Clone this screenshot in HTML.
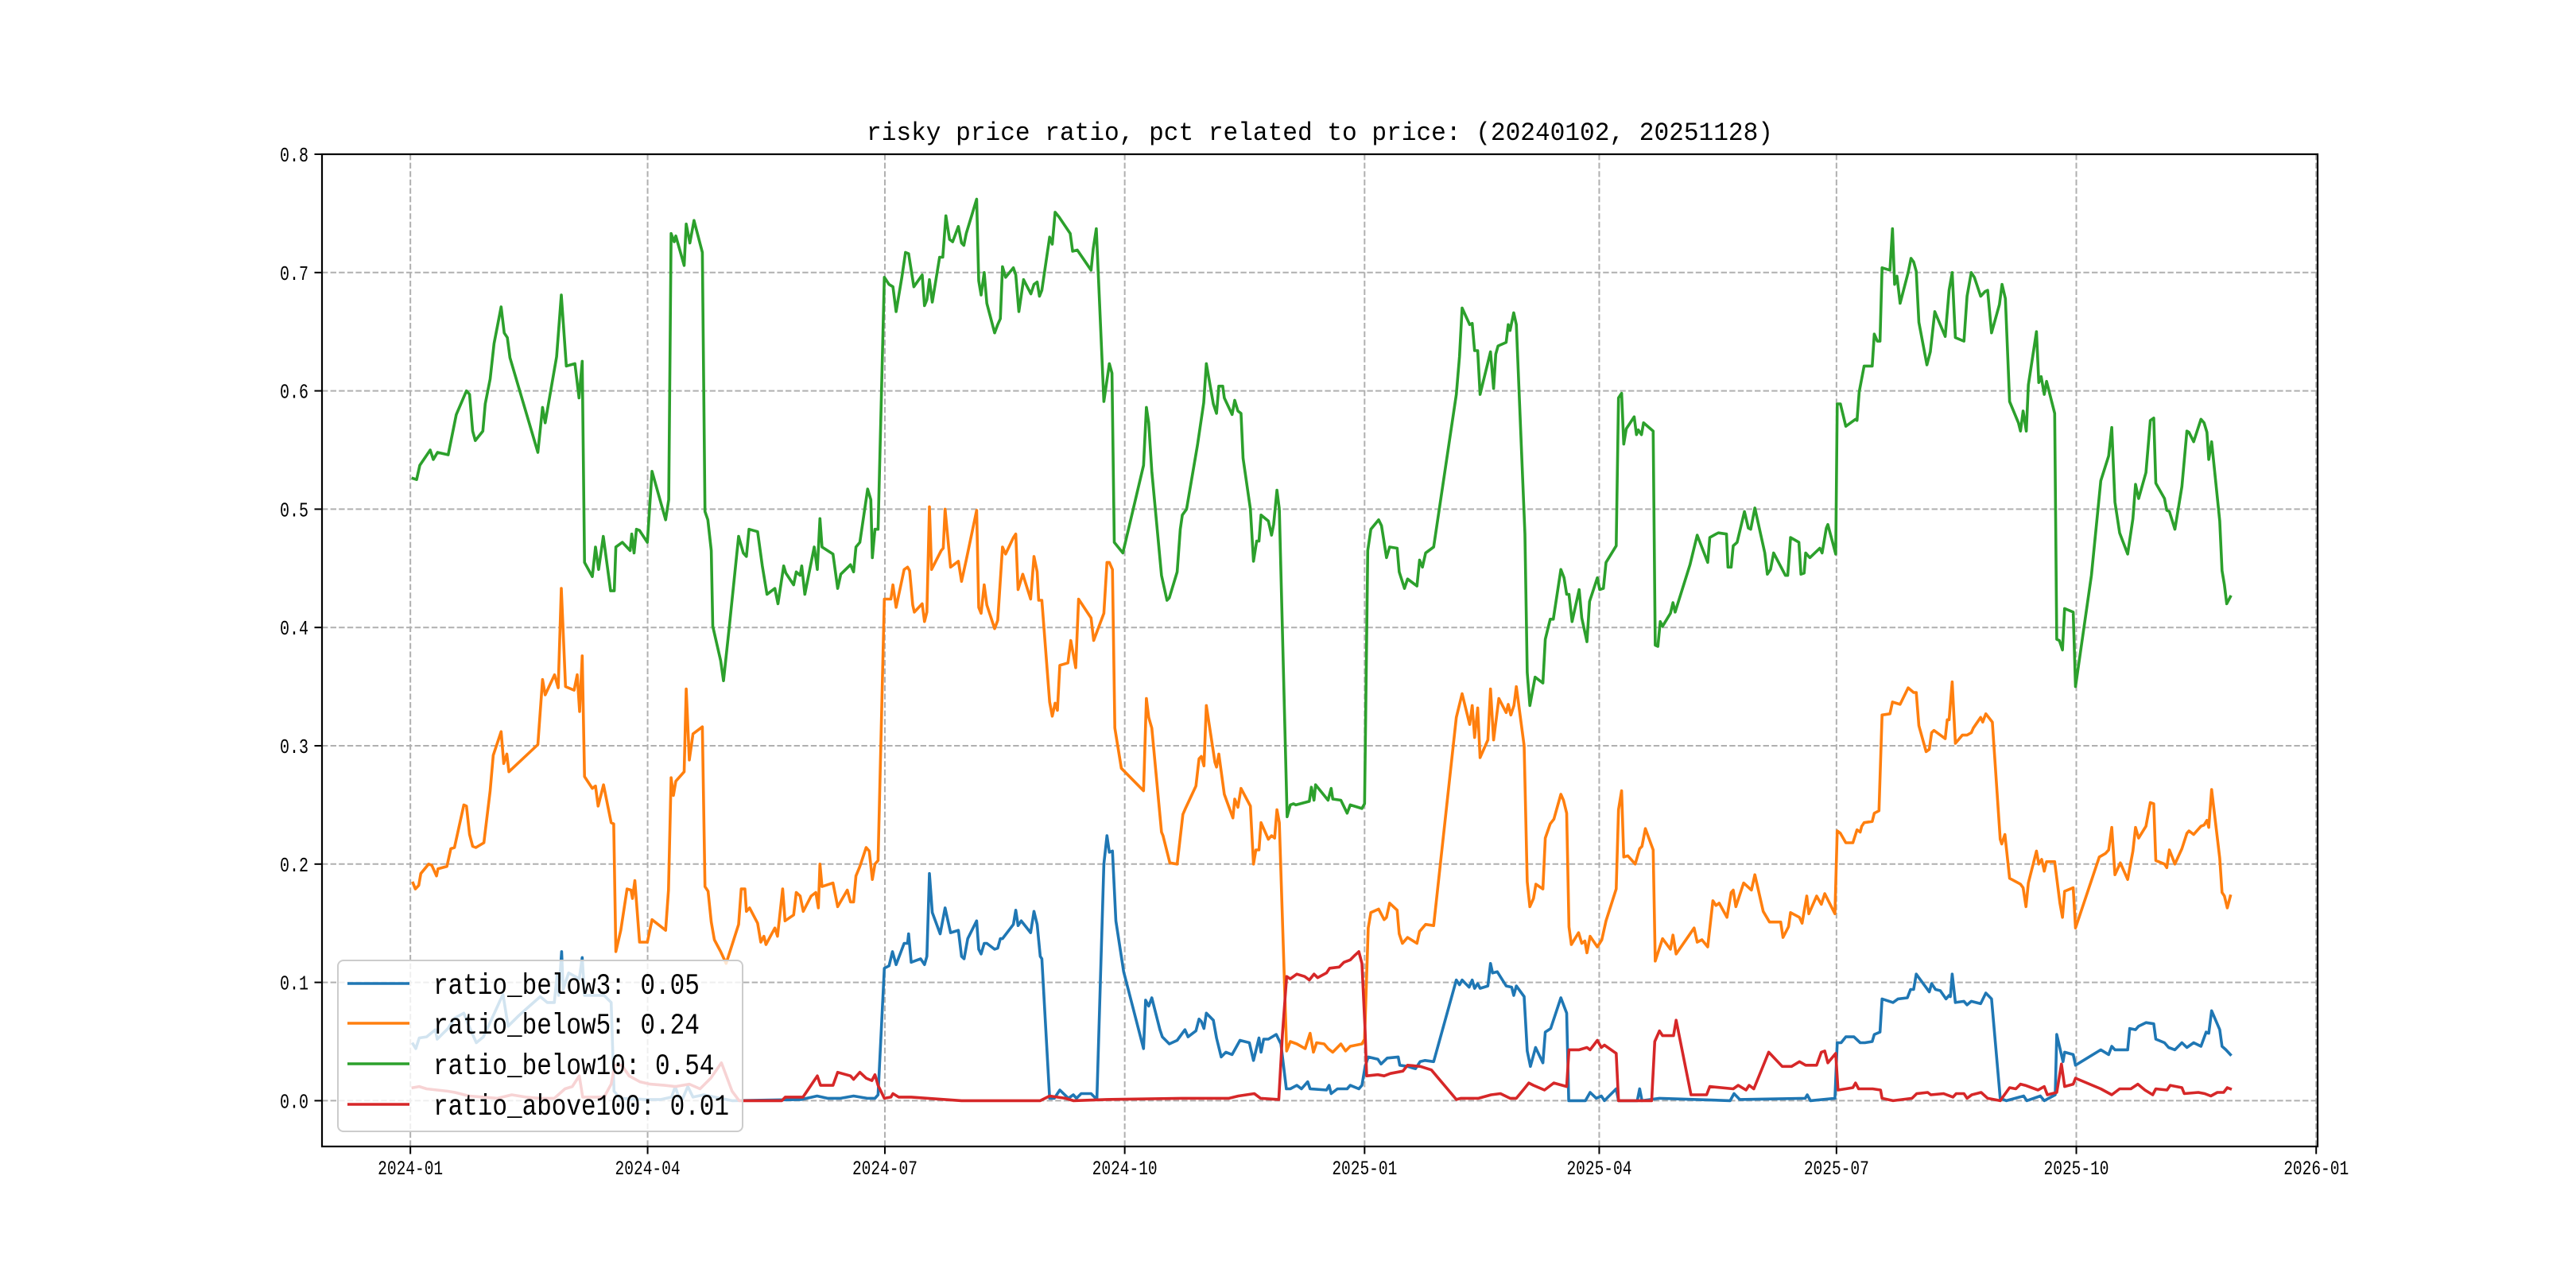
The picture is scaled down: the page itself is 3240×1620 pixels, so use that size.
<!DOCTYPE html>
<html><head><meta charset="utf-8"><title>risky price ratio</title>
<style>
html,body{margin:0;padding:0;background:#fff;}
svg{display:block;}
text{font-family:"Liberation Mono","Noto Sans CJK SC",monospace;fill:#000;}
</style></head>
<body>
<svg id="chart" width="3240" height="1620" viewBox="0 0 3240 1620" xmlns="http://www.w3.org/2000/svg">
<rect width="3240" height="1620" fill="#fff"/>
<text x="1660" y="176" text-anchor="middle" font-size="32" textLength="1140" lengthAdjust="spacingAndGlyphs">risky price ratio, pct related to price: (20240102, 20251128)</text>
<g id="grid"></g>
<g id="series"></g>
<g id="axes"></g>
<g id="legend"></g>
</svg>
<script>
// ---- data (x = days since 2024-01-01) ----
const yTicks = [0.0,0.1,0.2,0.3,0.4,0.5,0.6,0.7,0.8];
const yTickLabels = ["0.0","0.1","0.2","0.3","0.4","0.5","0.6","0.7","0.8"];
const xTickLabels = ["2024-01","2024-04","2024-07","2024-10","2025-01","2025-04","2025-07","2025-10","2026-01"];
const seriesNames = ["ratio_below3","ratio_below5","ratio_below10","ratio_above100"];
const seriesLatest = ["0.05","0.24","0.54","0.01"];

const below3Days = [1,2.1,3.4,6.2,9.6,10.3,14.4,17.1,20.5,22.5,25.3,28,31.4,35.5,37.5,41.6,45.7,49.8,52.5,55.2,56.3,56.9,58,58.6,60.7,64.8,65.9,66.8,68.9,74.3,77,78.1,80.5,90.7,96.1,100.2,101.6,102.9,104.3,106.4,108.4,112.5,123.4,150,156,160,165,170,175.2,178.2,179.4,181.8,183.6,184.9,186.3,189.4,190.7,191.1,192.1,195.7,197.2,198.1,199.1,200.2,203.2,205.1,207.2,210.2,211.4,212.4,213.8,217.2,218,218.9,220.1,221.1,224.1,225.3,226.3,227.1,231.3,232.2,233.1,234.3,237.9,239.2,240.4,241.6,242.2,245.2,247,249.1,252.4,254.3,255.5,257.3,261.1,263.3,266,267.2,268.1,269.3,270.6,273.6,281.2,282,283.2,284.4,287.5,288.4,291.1,294.1,297.1,298.3,301.3,302.5,303.4,304.4,305.3,308,309.2,311,312.8,315.2,318.2,320,321.8,323.4,325.5,326.3,327.3,329.1,332.1,333.9,336,337.5,340,341.8,344.2,345.1,351.4,352.4,353.2,355.6,359.3,360.5,363.8,365,366.2,367.4,371.1,372.3,374.7,378.9,379.5,382.5,385.5,387.3,389.2,392.5,401.2,402.4,403.4,406.1,407.3,408.2,409.4,410.3,413.3,414.3,415.1,416.9,420.3,422.4,423.2,424.2,427.2,428.4,429.6,431.6,434.4,435.3,437.4,441.3,443.5,444.3,450.7,452.5,454.9,456.8,458,462.5,463.4,470.6,471.5,472.4,479.1,506.2,507.7,509.9,535,535.8,537,546.4,547.3,548.8,550.6,553.7,556.1,557.9,560.7,561.5,563.7,564.5,568.7,570.6,574.2,575.4,576.6,577.6,579.6,582.6,583.5,585,586.8,589,590.2,590.7,591.4,592.6,595.9,597.1,598.7,602.3,604.3,606.5,609.8,612.2,618.8,620,625.2,626.7,630.9,631.5,633.9,634.5,637.8,638.7,648.4,651.4,652.6,653.8,658.7,659.5,661.7,662.9,665.7,668.7,669.5,672.8,674.4,676.8,679.5,681.4,684,686.8,688.8,689.8,690.9,694,694.9,696.4,698.1];
const below3Vals = [.048,.044,.053,.054,.060,.052,.061,.070,.074,.063,.049,.054,.070,.090,.063,.072,.080,.088,.083,.083,.107,.089,.126,.094,.108,.103,.121,.089,.089,.089,.083,.008,.002,.001,.001,.003,.012,.003,.001,.012,.003,.005,0,.001,.004,.002,.002,.004,.002,.002,.005,.112,.114,.126,.115,.133,.133,.141,.117,.120,.115,.122,.192,.159,.141,.163,.142,.144,.122,.120,.137,.152,.128,.124,.133,.133,.128,.129,.137,.137,.149,.161,.148,.152,.142,.160,.149,.122,.120,.002,.002,.009,.002,.005,.002,.006,.006,.001,.200,.224,.210,.211,.152,.109,.044,.085,.080,.087,.060,.054,.048,.051,.060,.054,.059,.069,.067,.061,.074,.068,.053,.037,.041,.039,.051,.050,.049,.034,.053,.041,.052,.052,.056,.048,.010,.010,.013,.010,.016,.010,.009,.013,.006,.010,.010,.013,.010,.013,.029,.037,.035,.031,.036,.037,.030,.029,.027,.033,.034,.033,.102,.098,.102,.096,.102,.095,.099,.095,.097,.116,.108,.109,.097,.096,.089,.097,.088,.042,.029,.045,.032,.058,.061,.087,.074,0,0,.007,.002,.004,0,.010,0,0,.010,0,.002,0,.006,.001,.002,.005,0,.002,.049,.049,.054,.054,.049,.049,.050,.056,.058,.086,.083,.086,.087,.094,.094,.107,.101,.092,.099,.094,.093,.086,.089,.088,.107,.083,.084,.081,.084,.082,.091,.086,.002,0,.004,0,.004,0,.005,.056,.033,.041,.039,.030,.043,.039,.046,.043,.043,.061,.060,.063,.066,.065,.052,.049,.045,.043,.049,.045,.049,.046,.058,.057,.076,.060,.046,.043,.039];

const below5Days = [1,1.9,3.2,4,7,8.2,10,10.6,14,15.5,16.9,20.5,21.5,22.7,23.9,25.1,28.2,30.6,31.8,34.8,35.8,37,37.8,48.9,50.7,51.7,55.3,56.7,57.9,59.5,62.8,64,64.9,65.9,66.8,69.8,71,72,74.1,77,78,78.8,80.7,83.1,84.6,85.2,86.1,87.9,90.9,92.7,97.9,99,100,100.9,101.8,105,105.8,107,108.4,112,113,114.2,115.4,116.6,119,121.1,125.9,126.9,128.3,128.9,130.1,133.2,134.4,135.6,136.4,139.8,140.8,142.8,143.7,147,148,149.5,150.7,153.7,155.5,156.5,157.1,157.9,162.1,163.9,167.6,168.8,170,170.9,172.4,174.8,176,177.2,178.2,179.4,181.8,184.3,185.1,186.3,189.4,190.7,191.5,192.7,193.3,196.3,197.2,198.1,199.1,199.9,203.6,204.4,205.1,207.2,210.2,211.4,213.2,217.2,218,218.9,220.1,221.1,224.1,225.3,227.1,228.3,231.3,232.2,233.1,234.9,237.9,239.2,240.4,241,242.2,245.2,246.2,247.3,248.2,249.1,252.2,253.3,255.2,256.3,261.1,262.1,266,267.2,268.1,269.3,270.2,272.7,281.2,282.3,283.2,284.4,288.1,288.7,291.3,294.1,296.3,297.3,301.3,302.5,303.4,304.4,305.3,308.6,309.2,310.1,312.2,315.5,316.2,317.4,318.6,322.2,323.4,324.3,325.5,326.3,329.1,330.3,331.5,332.4,333.3,336.1,337.5,340,343.2,345.1,346.4,347.6,350.5,352,353.8,356.9,358.7,360.5,365,366,367.4,368.4,371.4,373.5,374.4,375.6,378.5,379.3,380.5,382.5,386.1,387.1,389.4,392.5,401.2,403.4,406.3,407.3,408.2,409.4,410.3,413.3,414.3,415.5,417.5,420.3,421.1,422.1,423.3,424.2,427.2,428.4,429.4,430.8,431.7,434.4,435.3,437.2,438.6,441.3,442.3,443.5,444.4,445.3,448.1,449.3,450.5,451.3,452.5,455.3,457,458.6,462.5,463.4,464.6,465.4,467,469.8,471.5,472.4,473.7,476.7,477.5,480.3,483.3,484.3,485.5,492.4,493.6,495.4,497.6,499.6,500.8,502,505,506.6,507.4,508.4,511.4,514.4,515.7,518.9,521.3,525.6,526.5,528.6,529.4,532.8,533.8,535.6,536.4,539.4,541.2,542.5,546.4,547.3,548.5,550.6,553.3,554.9,556.1,556.7,557.6,560.7,561.5,563.3,564.5,567.5,568.5,571.4,574.5,576.6,577.6,578.6,581.4,582.6,583.5,584.4,588.7,589.5,590.2,591.4,592.6,595.3,597.1,598.7,599.5,602.3,603.1,604.3,606.8,609.8,610.4,611.6,613.4,617.6,618.6,619.7,620.6,623.7,624.6,625.7,626.7,627.6,630.7,632.7,633.7,634.5,637.8,638.7,647.8,650.2,651.4,652.6,653.8,655.9,658.7,660.7,661.7,662.9,665.7,667.4,668.7,669.5,672.8,673.7,674.7,676.8,679.5,681.4,682.2,684,686.8,688,689.1,689.8,690.9,694,694.9,695.8,696.9,698.1];
const below5Vals = [.184,.179,.182,.192,.200,.199,.190,.196,.198,.213,.214,.250,.249,.225,.215,.214,.218,.262,.292,.312,.285,.293,.278,.301,.356,.343,.360,.349,.433,.350,.347,.360,.329,.376,.274,.264,.266,.249,.267,.235,.234,.126,.144,.179,.178,.171,.186,.134,.134,.153,.144,.178,.273,.258,.270,.278,.348,.288,.310,.316,.181,.177,.151,.136,.126,.116,.149,.179,.179,.160,.163,.150,.134,.139,.132,.146,.139,.179,.152,.157,.176,.173,.160,.173,.176,.163,.200,.181,.184,.164,.178,.168,.168,.190,.198,.214,.211,.187,.200,.203,.424,.424,.436,.417,.449,.451,.448,.419,.413,.420,.405,.413,.502,.449,.465,.467,.500,.451,.456,.439,.457,.499,.417,.412,.436,.419,.399,.406,.468,.462,.476,.479,.432,.445,.424,.460,.447,.423,.423,.337,.325,.336,.330,.368,.370,.389,.366,.424,.408,.389,.412,.455,.455,.449,.315,.281,.262,.340,.324,.315,.227,.224,.201,.200,.242,.247,.266,.289,.291,.283,.334,.286,.282,.293,.259,.239,.255,.248,.264,.249,.200,.212,.212,.235,.221,.224,.222,.246,.235,.042,.050,.048,.044,.057,.041,.049,.048,.044,.041,.048,.042,.046,.048,.052,.146,.159,.162,.153,.155,.167,.161,.141,.133,.138,.133,.143,.149,.148,.324,.344,.318,.334,.307,.332,.290,.305,.348,.305,.340,.328,.335,.326,.334,.350,.300,.185,.164,.171,.183,.179,.222,.234,.238,.259,.254,.243,.147,.132,.142,.133,.135,.125,.139,.130,.136,.152,.179,.246,.262,.206,.207,.200,.213,.215,.230,.212,.118,.137,.128,.140,.124,.146,.134,.136,.130,.169,.165,.167,.155,.176,.178,.164,.184,.178,.191,.160,.151,.151,.138,.147,.159,.155,.150,.173,.158,.173,.166,.175,.158,.228,.226,.218,.218,.229,.227,.232,.235,.236,.243,.245,.326,.327,.337,.335,.349,.345,.345,.317,.295,.297,.311,.313,.306,.322,.322,.354,.302,.309,.309,.311,.315,.324,.320,.327,.320,.221,.217,.225,.188,.183,.180,.164,.184,.211,.200,.204,.194,.202,.202,.167,.155,.177,.180,.146,.206,.209,.212,.231,.191,.201,.187,.211,.231,.222,.232,.252,.251,.203,.200,.197,.212,.200,.213,.226,.228,.225,.232,.233,.237,.231,.263,.205,.176,.173,.163,.173];

const below10Days = [1,2.4,3.6,7.6,8.8,10.4,14.5,17.6,21.5,22.7,23.9,24.9,27.8,28.7,30.6,32.1,34.8,36,37.2,38.2,48.9,50.7,51.7,56.1,57.9,59.8,63.1,64.7,65.9,66.8,69.8,71,72.2,74,76.8,78.2,78.8,81.3,84.3,84.9,85.8,86.7,87.9,90.9,92.7,97.9,99.1,100,101.2,101.8,105,105.8,107.2,108.8,112,113,114.1,115.4,116,119,120.1,122.3,125.9,127.7,128.9,129.9,133.2,135,136.8,139.8,141,143.2,144,147,148,149.5,150.1,151.3,154.9,156.1,157.1,157.9,162.1,163.9,165.1,168.8,170,170.9,172.4,175.4,176.6,177.2,178.2,179.4,181.8,183.6,185.1,186.3,188.5,189.9,191.1,193.1,196.3,197.2,198.1,199.1,200.2,203,204.2,205.4,206.8,208,210.2,211.4,212.3,213.2,217.2,218,218.9,220.1,221.1,224.1,225.3,226.3,227.1,228.3,231.3,232.2,233.4,235.2,238,239.2,240.4,241.3,242.2,245.2,246.2,247.3,248.8,253.1,254,255.8,261.1,261.9,263.1,266,268.1,269.1,270,273.3,281.2,282.3,283.2,284.4,288.1,290.2,291.1,294.1,295.3,296.1,297.7,301.9,304.3,305.3,308,309.2,310.1,311.6,312.2,315.2,316.2,317.4,318.6,319.4,322.2,323.4,324.6,325.5,326.3,329.1,330.3,331.1,332.4,333.3,336.3,337.5,338.7,339.6,344.8,345.6,346.6,347.2,352,353.2,353.8,356.9,359.3,360.5,365,366,367.2,368.4,371.4,372.5,373.5,374.4,375.6,378.5,379.3,381.3,382.5,386.1,387.1,388.2,389.4,392.5,401.2,402.4,403.4,406.3,407.3,408.2,409.4,410.3,414.3,415.5,416.3,417.2,420.3,421.1,421.8,423.2,424.2,427.5,428.4,429.4,431.4,434.4,435.3,437.2,438.4,441.3,442.5,443.5,444.4,445.6,448.3,449.3,451.3,452.3,455.3,456.2,457.6,458.6,462.5,463.4,464.6,465.4,466.4,469.4,470.3,471,472.2,473,476.7,477.5,478.5,479.4,480.3,483.3,484.3,485.1,490.8,493.6,497.6,498.4,500.8,501.7,504.8,505.4,506.6,507.4,508.9,511.7,513.2,514.1,515.7,519.5,520.5,521.7,522.9,527.4,528.3,529.4,532.6,533.4,534.6,535.2,536.8,540.6,541.5,543.1,543.7,546.7,547.3,548.5,550.6,554.3,554.9,555.7,557.6,560.7,561.5,562.7,563.7,564.5,567.5,568.5,569.3,570.2,571.4,574.5,575.6,576.6,577.6,578.6,581.7,583,584.7,588.7,590.2,591.4,592.6,595.9,597.1,598.7,599.9,602.3,604,605,606.5,609.5,610.5,611.8,613.4,616.8,617.6,618.6,619.8,620.6,623.7,624.6,625.5,626.7,627.6,630.7,631.5,632.5,633.7,634.5,637.8,638.7,644.8,648.4,651.4,652.6,653.8,655.6,658.7,660.7,661.7,662.9,665.7,667.4,668.7,669.5,672.8,673.7,674.7,676.8,679.5,681.4,682.2,684,686.8,688,689.1,689.8,690.9,694,694.9,695.8,696.7,698.1];
const below10Vals = [.526,.525,.537,.550,.542,.548,.546,.580,.600,.597,.566,.558,.566,.589,.610,.640,.671,.649,.645,.628,.548,.586,.573,.629,.681,.621,.623,.594,.625,.455,.443,.468,.449,.477,.431,.431,.468,.472,.465,.479,.463,.483,.482,.472,.532,.491,.508,.733,.726,.731,.706,.741,.725,.744,.717,.498,.491,.465,.401,.372,.355,.400,.477,.463,.460,.483,.481,.452,.428,.433,.420,.452,.446,.436,.447,.444,.452,.428,.468,.449,.492,.468,.462,.433,.445,.453,.447,.468,.472,.517,.508,.459,.483,.483,.696,.690,.688,.667,.696,.717,.716,.688,.698,.672,.677,.694,.675,.713,.713,.748,.728,.726,.739,.725,.723,.733,.762,.693,.681,.700,.674,.649,.656,.661,.705,.696,.704,.698,.667,.694,.682,.690,.692,.680,.685,.730,.724,.751,.747,.733,.718,.719,.702,.720,.737,.591,.623,.615,.472,.463,.537,.586,.573,.532,.444,.423,.425,.447,.483,.495,.500,.554,.590,.623,.589,.581,.604,.604,.594,.580,.592,.583,.581,.543,.500,.456,.473,.473,.495,.490,.478,.487,.516,.500,.240,.250,.251,.250,.253,.265,.254,.267,.254,.264,.255,.254,.243,.250,.247,.251,.465,.483,.491,.486,.472,.459,.468,.467,.447,.433,.441,.435,.457,.451,.463,.468,.597,.629,.670,.656,.657,.634,.634,.597,.633,.602,.631,.638,.641,.656,.651,.666,.656,.479,.362,.334,.358,.353,.390,.407,.407,.449,.442,.428,.428,.405,.432,.408,.388,.422,.442,.432,.433,.455,.469,.594,.598,.555,.568,.578,.563,.567,.563,.573,.566,.385,.384,.405,.401,.412,.421,.413,.453,.478,.455,.476,.479,.480,.479,.451,.451,.469,.472,.498,.484,.483,.501,.463,.445,.449,.463,.444,.444,.476,.472,.445,.446,.463,.459,.467,.463,.484,.487,.462,.589,.589,.570,.576,.575,.599,.621,.621,.648,.642,.642,.704,.702,.737,.690,.697,.674,.700,.712,.709,.701,.658,.622,.633,.667,.646,.685,.700,.645,.642,.680,.700,.696,.680,.684,.685,.649,.673,.690,.678,.591,.573,.566,.583,.566,.605,.650,.607,.612,.597,.608,.581,.390,.389,.381,.416,.413,.350,.444,.524,.545,.569,.506,.480,.462,.492,.521,.509,.531,.575,.577,.522,.509,.499,.498,.483,.519,.566,.565,.557,.576,.573,.565,.542,.557,.490,.448,.436,.420,.426];

const above100Days = [1,3.4,6.2,10.3,14.4,17.1,22.5,28,33.4,38.9,44.3,49.8,55.2,59.3,62.1,64.8,66.1,74.3,77,78.4,81.1,83.9,88,92,97.5,101.6,107,111.1,115.2,119.3,123.4,126.1,142.5,143.8,150.6,156.1,157.3,162.1,163.9,168.8,170,172.4,174.8,177,178.2,179.4,181.8,184.3,185.1,187.3,192.1,211.4,241.6,245.2,251.2,254.3,266.9,295.9,314,317.6,323.7,326.1,333.1,334.5,336.1,337.5,340,343,344.8,346.6,348,351.4,352.6,356.3,358.1,360.5,362.3,363.8,365,366.2,366.8,371.1,373.5,375.9,380.7,382.5,387.4,391.6,401.2,403,409.7,414.5,418.1,421.8,424.2,427.2,429,430.8,435,438.6,443.5,444.4,448.3,451.3,452.5,455.3,456.8,458,462.5,463.4,476.1,477.3,479.1,480.3,484.5,485.5,491.2,497.2,498.4,507.4,509.3,512.3,513.5,515.3,521,521.9,526.2,529.8,532.8,535.2,539.4,541.2,542.5,543.7,546.7,547.6,550.6,553.3,554.3,555.5,560.9,563.9,564.5,568.7,576,577.8,582,583.2,588.1,591.7,592.9,595.9,597.1,598.9,602.5,605,609.8,613.4,615.8,617.6,619.4,624.3,626.7,627.9,631.5,633.3,634.5,637.8,638.7,648.4,652.6,655.6,659.9,662.6,665.3,668.3,669.5,673.8,675,679.5,680.4,685.8,688.2,690.6,693.1,695.5,696.9,698.1];
const above100Vals = [.011,.012,.010,.009,.008,.007,.004,.003,.002,.005,.003,.002,.002,.010,.012,.021,.003,.003,.014,.030,.030,.021,.016,.014,.013,.012,.014,.010,.019,.032,.008,0,0,.003,.003,.021,.013,.013,.024,.021,.018,.024,.019,.017,.022,.013,.002,.003,.006,.003,.003,0,0,.004,.002,0,.001,.002,.002,.004,.006,.002,.001,.056,.105,.103,.107,.105,.102,.107,.104,.108,.112,.113,.117,.119,.123,.126,.116,.059,.021,.022,.021,.023,.025,.030,.029,.026,.001,.002,.002,.005,.006,.002,.002,.010,.015,.013,.009,.015,.012,.043,.043,.045,.043,.051,.045,.047,.040,0,0,.050,.059,.055,.055,.068,.005,.005,.012,.010,.013,.009,.013,.010,.041,.039,.029,.029,.033,.030,.030,.041,.042,.032,.040,.009,.010,.011,.015,.010,.010,.009,.002,0,.002,.006,.007,.005,.006,.003,.006,.006,.002,.005,.007,.002,0,.011,.010,.014,.013,.009,.012,.005,.007,.031,.012,.014,.019,.010,.005,.010,.010,.014,.009,.005,.010,.009,.013,.011,.006,.007,.006,.004,.007,.007,.011,.010];

// ---- layout ----
const PL = 405, PR = 2915, PT = 194, PB = 1442;
const X_MIN = -33.9, X_MAX = 731 + (2915 - 2913.2) / 3.2791;
const Y_MIN = -0.0387, Y_MAX = 0.8;
const NS = "http://www.w3.org/2000/svg";
function xs(d){ return PL + (d - X_MIN) / (X_MAX - X_MIN) * (PR - PL); }
function ys(v){ return PB - (v - Y_MIN) / (Y_MAX - Y_MIN) * (PB - PT); }
function labelDay(s){ const p = s.split("-"); return (Date.UTC(+p[0], +p[1]-1, 1) - Date.UTC(2024,0,1)) / 864e5; }
function mk(tag, attrs, parent){ const e = document.createElementNS(NS, tag); for (const k in attrs) e.setAttribute(k, attrs[k]); parent.appendChild(e); return e; }

const grid = document.getElementById("grid");
const axes = document.getElementById("axes");
const seriesG = document.getElementById("series");
const legendG = document.getElementById("legend");

// grid
yTicks.forEach(function(v){
  const g = mk("line", {x1:PL, x2:PR, y1:ys(v), y2:ys(v), stroke:"#b0b0b0", "stroke-width":2, "stroke-dasharray":"7.4,3.2"}, grid);
  
  
});
xTickLabels.forEach(function(s){
  const x = xs(labelDay(s));
  const g = mk("line", {x1:x, x2:x, y1:PT, y2:PB, stroke:"#b0b0b0", "stroke-width":2, "stroke-dasharray":"7.4,3.2"}, grid);
  
  
});

// series
const colors = ["#1f77b4","#ff7f0e","#2ca02c","#d62728"];
const dayArrs = [below3Days, below5Days, below10Days, above100Days];
const valArrs = [below3Vals, below5Vals, below10Vals, above100Vals];
for (let i = 0; i < 4; i++) {
  let d = "";
  const n = Math.min(dayArrs[i].length, valArrs[i].length);
  for (let j = 0; j < n; j++) d += (j ? "L" : "M") + xs(dayArrs[i][j]).toFixed(1) + "," + ys(valArrs[i][j]).toFixed(1);
  const p = mk("path", {d:d, fill:"none", stroke:colors[i], "stroke-width":3.6, "stroke-linejoin":"round", "stroke-linecap":"square"}, seriesG);
  
  
}

// spines
const frame = mk("rect", {x:PL, y:PT, width:PR-PL, height:PB-PT, fill:"none", stroke:"#000", "stroke-width":2.2}, axes);



// y ticks
yTicks.forEach(function(v, i){
  const y = ys(v);
  const t = mk("line", {x1:PL-9.5, x2:PL, y1:y, y2:y, stroke:"#000", "stroke-width":2}, axes);
  
  
  const lb = mk("text", {x:PL-17, y:y+9, "text-anchor":"end", "font-size":26, textLength:36, lengthAdjust:"spacingAndGlyphs"}, axes);
  lb.textContent = yTickLabels[i];
  
  
});
// x ticks
xTickLabels.forEach(function(s){
  const x = xs(labelDay(s));
  const t = mk("line", {x1:x, x2:x, y1:PB, y2:PB+9.5, stroke:"#000", "stroke-width":2}, axes);
  
  
  const lb = mk("text", {x:x, y:1477, "text-anchor":"middle", "font-size":25, textLength:82, lengthAdjust:"spacingAndGlyphs"}, axes);
  lb.textContent = s;
  
  
});

// legend
const box = mk("rect", {x:425, y:1208, width:509, height:215, rx:7, ry:7, fill:"#fff", "fill-opacity":0.8, stroke:"#cccccc", "stroke-width":2}, legendG);


const rowY = [1237, 1287, 1338, 1389];
for (let i = 0; i < 4; i++) {
  const g = mk("g", {}, legendG);
  
  
  const ln = mk("line", {x1:437, x2:515, y1:rowY[i], y2:rowY[i], stroke:colors[i], "stroke-width":3.6}, g);
  
  
  const label = seriesNames[i] + ": " + seriesLatest[i];
  const tx = mk("text", {x:545, y:rowY[i]+13, "font-size":37, textLength:(label.length*18.6).toFixed(1), lengthAdjust:"spacingAndGlyphs"}, g);
  tx.textContent = label;
  
  
}
</script>
</body></html>
